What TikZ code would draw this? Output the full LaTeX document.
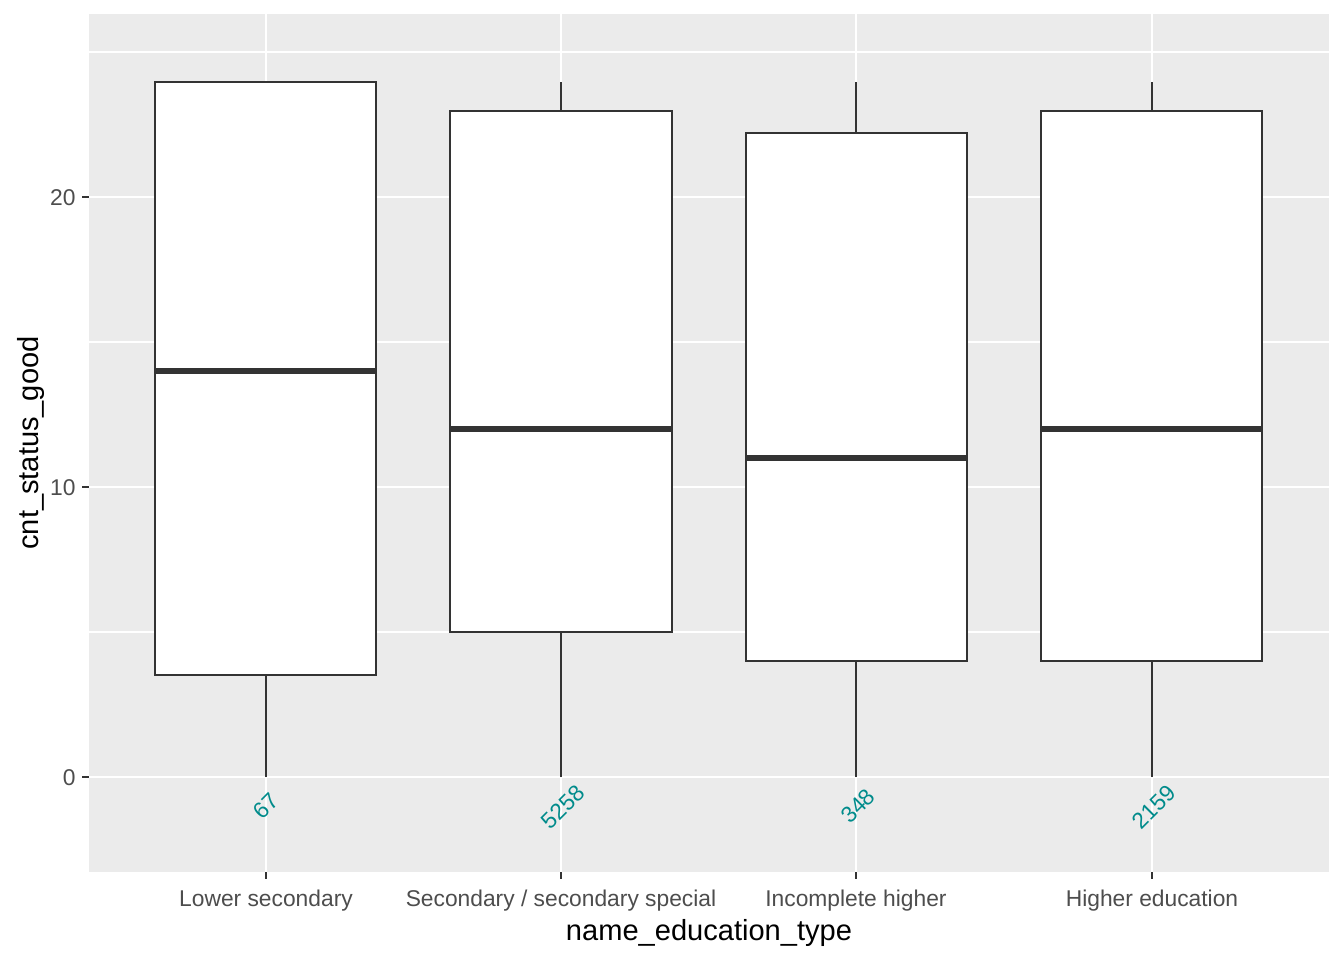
\documentclass[tikz,border=0pt]{standalone}
\usepackage{fontspec}
\setmainfont{Liberation Sans}
\definecolor{panelgray}{HTML}{EBEBEB}
\definecolor{boxline}{HTML}{333333}
\definecolor{ticklab}{HTML}{4D4D4D}
\definecolor{counttxt}{HTML}{008B8B}
\begin{document}
\begin{tikzpicture}[x=0.375pt,y=-0.375pt,
  majorgrid/.style={white,line width=1.07pt},
  minorgrid/.style={white,line width=0.53pt},
  boxrect/.style={draw=boxline,fill=white,line width=1.07pt},
  whisk/.style={boxline,line width=1.07pt},
  medline/.style={boxline,line width=2.13pt},
  tickmark/.style={boxline,line width=1.07pt},
  ticklabel/.style={text=ticklab,font=\fontsize{8.55}{10}\selectfont,inner sep=0pt},
  axtitle/.style={text=black,font=\fontsize{10.9}{13}\selectfont,inner sep=0pt},
  countlabel/.style={text=counttxt,font=\fontsize{8.5}{10}\selectfont,inner sep=0pt,rotate=45}]
\useasboundingbox (0,0) rectangle (1344,960);
\fill[white] (0,0) rectangle (1344,960);
% panel
\fill[panelgray] (89,14) rectangle (1329,872);
% minor grid
\foreach \y in {52,342,632} \draw[minorgrid] (89,\y) -- (1329,\y);
% major grid
\foreach \y in {197,487,777} \draw[majorgrid] (89,\y) -- (1329,\y);
\foreach \x in {266,561,856,1152} \draw[majorgrid] (\x,14) -- (\x,872);
% box 1: Lower secondary
\coordinate (w1a) at (266,675); \coordinate (w1b) at (266,777);
\draw[whisk] (w1a) -- (w1b);
\draw[boxrect] (155,82) rectangle (376,675);
\draw[medline] (155,371) -- (376,371);
% box 2
\coordinate (w2t) at (561,82); \coordinate (w2u) at (561,111);
\coordinate (w2l) at (561,632); \coordinate (w2b) at (561,777);
\draw[whisk] (w2t) -- (w2u); \draw[whisk] (w2l) -- (w2b);
\draw[boxrect] (450,111) rectangle (672,632);
\draw[medline] (450,429) -- (672,429);
% box 3
\coordinate (w3t) at (856,82); \coordinate (w3u) at (856,133);
\coordinate (w3l) at (856,661); \coordinate (w3b) at (856,777);
\draw[whisk] (w3t) -- (w3u); \draw[whisk] (w3l) -- (w3b);
\draw[boxrect] (746,133) rectangle (967,661);
\draw[medline] (746,458) -- (967,458);
% box 4
\coordinate (w4t) at (1152,82); \coordinate (w4u) at (1152,111);
\coordinate (w4l) at (1152,661); \coordinate (w4b) at (1152,777);
\draw[whisk] (w4t) -- (w4u); \draw[whisk] (w4l) -- (w4b);
\draw[boxrect] (1041,111) rectangle (1262,661);
\draw[medline] (1041,429) -- (1262,429);
% count labels
\node[countlabel] (c1) at (266,806) {67};
\node[countlabel] (c2) at (563,807) {5258};
\node[countlabel] (c3) at (858,806) {348};
\node[countlabel] (c4) at (1154,807) {2159};
% y ticks
\foreach \y in {197,487,777} \draw[tickmark] (82,\y) -- (89,\y);
\node[ticklabel,anchor=east] (y20) at (76,198) {20};
\node[ticklabel,anchor=east] (y10) at (76,488) {10};
\node[ticklabel,anchor=east] (y0) at (76,778) {0};
% x ticks
\foreach \x in {266,561,856,1152} \draw[tickmark] (\x,872) -- (\x,879);
\node[ticklabel,anchor=base] (x1) at (266,906) {Lower secondary};
\node[ticklabel,anchor=base] (x2) at (561,906) {Secondary / secondary special};
\node[ticklabel,anchor=base] (x3) at (856,906) {Incomplete higher};
\node[ticklabel,anchor=base] (x4) at (1152,906) {Higher education};
% axis titles
\node[axtitle,anchor=base] (xt) at (709,940) {name\_education\_type};
\node[axtitle,anchor=base,rotate=90] (yt) at (38,443) {cnt\_status\_good};
\end{tikzpicture}
\end{document}
